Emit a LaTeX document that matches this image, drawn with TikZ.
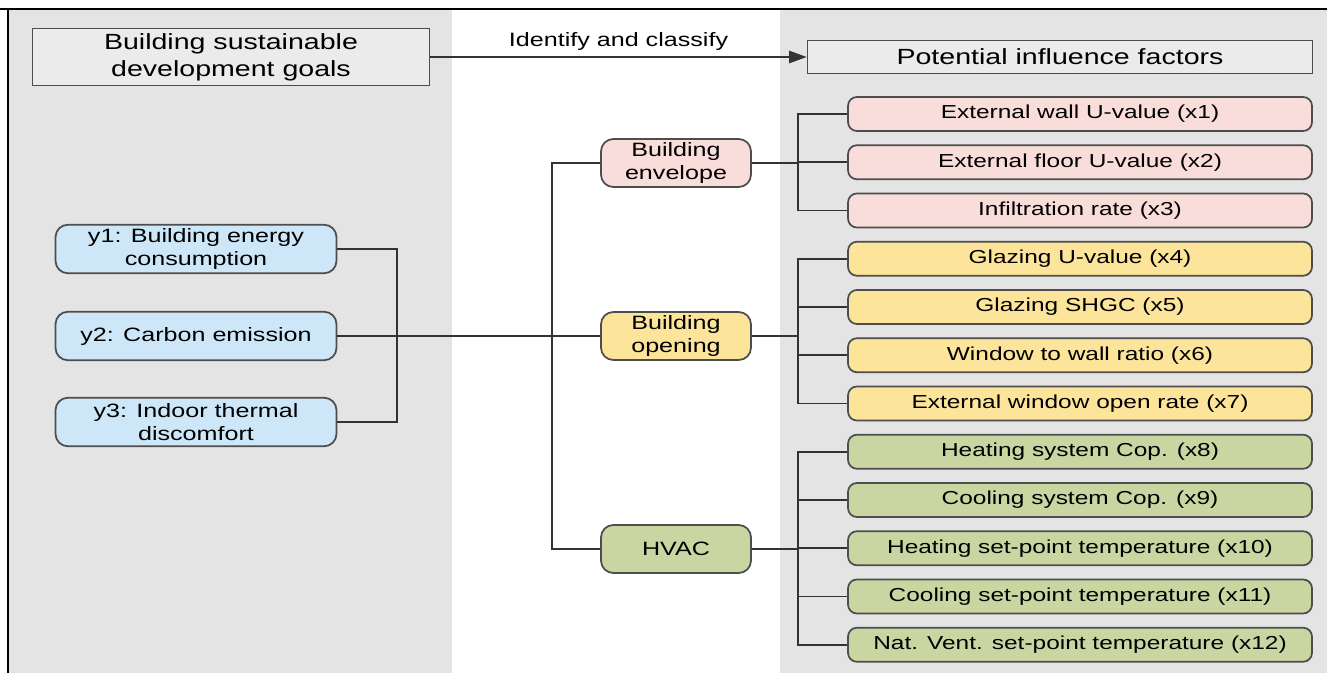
\documentclass[tikz,border=0pt]{standalone}
\usepackage{fontspec}
\setmainfont{Liberation Sans}[FakeStretch=1.3]
\usetikzlibrary{arrows.meta,positioning}

\definecolor{panelgray}{HTML}{E4E4E4}
\definecolor{goalgray}{HTML}{EBEBEB}
\definecolor{edgegray}{HTML}{4D4D4D}
\definecolor{linkgray}{HTML}{333333}
\definecolor{envpink}{HTML}{F9DDDA}
\definecolor{openyellow}{HTML}{FDE49B}
\definecolor{hvacgreen}{HTML}{C9D6A2}
\definecolor{goalblue}{HTML}{CDE7F8}

\begin{document}
\begin{tikzpicture}[
    x=0.02cm, y=-0.02cm,
    node distance=0.25cm and 1cm,
    titlebox/.style={rectangle, draw=edgegray, fill=goalgray, line width=1pt, align=center, inner sep=0pt, font=\fontsize{12.5}{15.5}\selectfont},
    objective/.style={rectangle, draw=edgegray, fill=goalblue, line width=1pt, rounded corners=7pt, align=center, inner sep=0pt, minimum width=5.62cm, minimum height=0.97cm, font=\fontsize{11}{13.5}\selectfont},
    category/.style={rectangle, draw=edgegray, line width=1pt, rounded corners=7pt, align=center, inner sep=0pt, minimum width=3cm, minimum height=0.96cm, font=\fontsize{11}{13.5}\selectfont},
    factor/.style={rectangle, draw=edgegray, line width=1pt, rounded corners=5pt, align=center, inner sep=0pt, minimum width=9.28cm, minimum height=0.68cm, font=\fontsize{10.7}{12}\selectfont},
    link/.style={draw=linkgray, line width=1.1pt},
    arrow/.style={-{Triangle[length=10pt,width=7pt]}, draw=linkgray, line width=1.1pt}
]
    % panels and frame
    \useasboundingbox (0,0) rectangle (1327,673);
    \fill[white] (0,0) rectangle (1327,673);
    \fill[panelgray] (8,9) rectangle (452,673);
    \fill[panelgray] (780,9) rectangle (1327,673);
    \draw[black, line width=0.8pt] (0,9) -- (1327,9);
    \draw[black, line width=0.8pt] (8,9) -- (8,673);

    % headers
    \node[titlebox, minimum width=7.94cm, minimum height=1.14cm] (goals) at (231,57) {Building sustainable\\development goals};
    \node[titlebox, minimum width=10.1cm, minimum height=0.66cm] (factors) at (1060,57) {Potential influence factors};

    % objectives
    \node[objective] (y1) at (196,249) {y1: Building energy\\consumption};
    \node[objective] (y2) at (196,336) {y2: Carbon emission};
    \node[objective] (y3) at (196,422) {y3: Indoor thermal\\discomfort};

    % categories
    \node[category, fill=envpink] (envelope) at (676,163) {Building\\envelope};
    \node[category, fill=openyellow] (opening) at (676,336) {Building\\opening};
    \node[category, fill=hvacgreen] (hvac) at (676,549) {HVAC};

    % influence factors
    \node[factor, fill=envpink] (x1) at (1080,114) {External wall U-value (x1)};
    \node[factor, fill=envpink, below=of x1] (x2) {External floor U-value (x2)};
    \node[factor, fill=envpink, below=of x2] (x3) {Infiltration rate (x3)};
    \node[factor, fill=openyellow, below=of x3] (x4) {Glazing U-value (x4)};
    \node[factor, fill=openyellow, below=of x4] (x5) {Glazing SHGC (x5)};
    \node[factor, fill=openyellow, below=of x5] (x6) {Window to wall ratio (x6)};
    \node[factor, fill=openyellow, below=of x6] (x7) {External window open rate (x7)};
    \node[factor, fill=hvacgreen, below=of x7] (x8) {Heating system Cop. (x8)};
    \node[factor, fill=hvacgreen, below=of x8] (x9) {Cooling system Cop. (x9)};
    \node[factor, fill=hvacgreen, below=of x9] (x10) {Heating set-point temperature (x10)};
    \node[factor, fill=hvacgreen, below=of x10] (x11) {Cooling set-point temperature (x11)};
    \node[factor, fill=hvacgreen, below=of x11] (x12) {Nat. Vent. set-point temperature (x12)};

    % bus lines
    \coordinate (lbus) at (397,0);
    \coordinate (mbus) at (552,0);
    \coordinate (rbus) at (798,0);

    \draw[arrow] (goals.east) -- node[above, inner sep=3pt, font=\fontsize{11}{13}\selectfont] {Identify and classify} (factors.west);

    \draw[link] (y1.east) -- (y1.east -| lbus) -- (y3.east -| lbus) -- (y3.east);
    \draw[link] (y2.east) -- (opening.west);
    \draw[link] (envelope.west) -- (envelope.west -| mbus) -- (hvac.west -| mbus) -- (hvac.west);

    \draw[link] (envelope.east) -- (envelope.east -| rbus);
    \draw[link] (x1.west) -- (x1.west -| rbus) -- (x3.west -| rbus) -- (x3.west);
    \draw[link] (x2.west) -- (x2.west -| rbus);

    \draw[link] (opening.east) -- (opening.east -| rbus);
    \draw[link] (x4.west) -- (x4.west -| rbus) -- (x7.west -| rbus) -- (x7.west);
    \draw[link] (x5.west) -- (x5.west -| rbus);
    \draw[link] (x6.west) -- (x6.west -| rbus);

    \draw[link] (hvac.east) -- (hvac.east -| rbus);
    \draw[link] (x8.west) -- (x8.west -| rbus) -- (x12.west -| rbus) -- (x12.west);
    \draw[link] (x9.west) -- (x9.west -| rbus);
    \draw[link] (x10.west) -- (x10.west -| rbus);
    \draw[link] (x11.west) -- (x11.west -| rbus);
\end{tikzpicture}
\end{document}
